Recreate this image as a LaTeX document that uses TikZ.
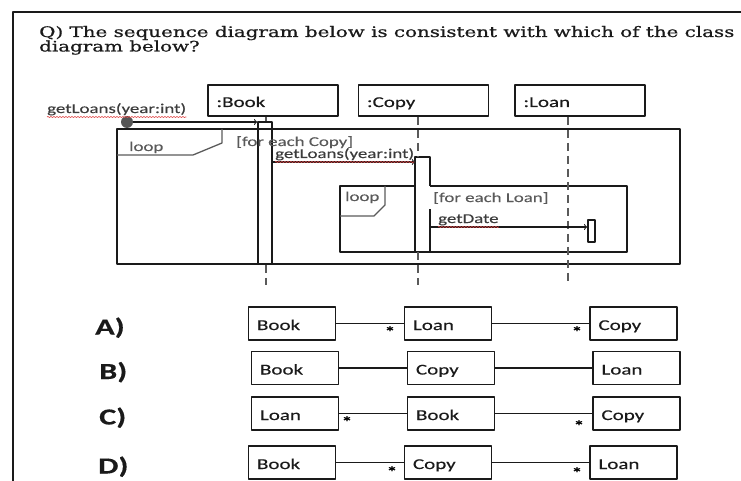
\documentclass[tikz,border=0pt]{standalone}
\usepackage{fontspec}
\usetikzlibrary{positioning,decorations.pathmorphing}
\setmainfont{DejaVu Serif}[FakeStretch=1.37, FakeBold=0.7]
\newfontfamily\boxfont{Carlito}[FakeStretch=1.40, FakeBold=0.3]
\definecolor{ink}{HTML}{1A1A1A}
\definecolor{muted}{HTML}{5A5A5A}
\definecolor{dotgray}{HTML}{555555}
\definecolor{squiggle}{HTML}{E04848}
\newcommand{\asksize}{\fontsize{14.5}{17}\selectfont}
\newcommand{\boxsize}{\boxfont\fontsize{15}{18}\selectfont}
\newcommand{\notesize}{\boxfont\fontsize{13.5}{16}\selectfont}
\newcommand{\choicesize}{\boxfont\bfseries\fontsize{23}{26}\selectfont}
\tikzset{
  every picture/.style = {line join=round},
  ask/.style      = {anchor=base west, inner sep=0pt, font=\asksize, text=ink},
  objbox/.style   = {draw=ink, line width=1.6pt, text width=113pt, minimum height=31pt,
                     inner xsep=8.5pt, inner ysep=0pt, text height=13pt, text depth=0pt,
                     align=left, font=\boxsize, text=ink},
  classbox/.style = {objbox, text width=70pt, minimum height=33pt},
  bar/.style      = {draw=ink, line width=1.6pt, inner sep=0pt},
  frame/.style    = {draw=ink, line width=1.6pt},
  tag/.style      = {draw=muted, line width=1.3pt},
  life/.style     = {draw=muted, line width=1.4pt, dash pattern=on 8pt off 5pt},
  stem/.style     = {draw=muted, line width=1.4pt},
  msg/.style      = {draw=ink, line width=1.1pt, ->},
  assoc/.style    = {draw=ink, line width=1.3pt},
  note/.style     = {anchor=base west, inner sep=0pt, font=\notesize, text=ink!85},
  squig/.style    = {draw=squiggle, line width=0.6pt, decorate,
                     decoration={snake, amplitude=0.6pt, segment length=3pt}},
  choice/.style   = {anchor=base west, inner sep=0pt, font=\choicesize, text=ink},
  mult/.style     = {anchor=base, inner sep=0pt, font=\boxfont\bfseries\fontsize{15}{15}\selectfont},
}
\begin{document}
\begin{tikzpicture}[x=1pt, y=-1pt]
  \useasboundingbox (0,0) rectangle (741,481);
  \clip (0,0) rectangle (741,481);

  % the page border, cut off by the screenshot
  \draw[frame] (13,481) -- (13,12) -- (741,12);
  \node[ask] (q1) at (39,37) {Q) The sequence diagram below is consistent with which of the class};
  \node[ask] (q2) at (39,51.5) {diagram below?};

  % heads of the three lifelines
  \node[objbox] (book) at (273,100.5) {:Book};
  \node[objbox] (copy) at (423.5,100.5) {:Copy};
  \node[objbox] (loan) at (580,100.5) {:Loan};
  \coordinate (lb) at (266,0);
  \coordinate (lc) at (418,0);
  \coordinate (ll) at (568,0);
  \coordinate (bottom) at (0,285);

  % loop frames with their name tags
  \draw[frame] (117,129) rectangle (680,264);
  \draw[tag] (117,155) -- (193,155) -- (222,143) -- (222,129);
  \node[note, text=muted] (loop1) at (129,151) {loop};
  \draw[frame] (340,186) rectangle (627,252);
  \draw[tag] (340,216) -- (374,216) -- (385,205) -- (385,186);
  \node[note, text=muted] (loop2) at (345,201) {loop};

  % activations
  \node[bar, minimum width=14pt, minimum height=142pt] (bookact) at (265,193) {};
  \coordinate (ca) at (415,157);
  \coordinate (cb) at (430,252);
  \fill[white] (ca) rectangle (cb);
  \draw[frame] (cb -| ca) -- (ca) -- (ca -| cb) -- (430,186);
  \draw[frame] (430,209) -- (cb) -- (cb -| ca);
  \node[bar, minimum width=7pt, minimum height=22pt] (loanact) at (591.5,231) {};

  % lifelines
  \draw[stem] (book.south -| lb) -- (lb |- bookact.north);
  \draw[life] (lb |- bookact.south) -- (lb |- bottom);
  \draw[life] (copy.south -| lc) -- (lc |- ca);
  \draw[life] (lc |- cb) -- (lc |- bottom);
  \draw[life] (loan.south -| ll) -- (ll |- bottom);

  % messages
  \node[circle, fill=dotgray, minimum size=12pt, inner sep=0pt] (found) at (127,122) {};
  \draw[msg] (found) -- (found -| bookact.west);
  \node[note] (call1) at (47,113) {getLoans(year:int)};
  \draw[squig] ([yshift=-4pt]call1.base west) -- ([yshift=-4pt]call1.base east);

  \node[note, text=muted] (guard1) at (236,146) {[for each Copy]};
  \coordinate (m2) at (0,162);
  \draw[msg] (bookact.east |- m2) -- (ca |- m2);
  \node[note] (call2) at (275,158) {getLoans(year:int)};
  \draw[squig] ([yshift=-4pt]call2.base west) -- ([yshift=-4pt]call2.base east);

  \node[note, text=muted] (guard2) at (433,202) {[for each Loan]};
  \coordinate (m3) at (0,227);
  \draw[msg] (cb |- m3) -- (loanact.west |- m3);
  \node[note] (call3) at (438,223) {getDate};
  \draw[squig] ([yshift=-4pt]call3.base west) -- ([yshift=-4pt]call3.base east);

  % the four candidate class diagrams
  \foreach \row/\y/\dx/\first/\second/\third in
      {a/323.5/0/Book/Loan/Copy, b/368/3/Book/Copy/Loan,
       c/413.5/3/Loan/Book/Copy, d/462.5/0/Book/Copy/Loan} {
    \node[classbox] (\row1) at (292+\dx,\y) {\first};
    \node[classbox] (\row2) at (448+\dx,\y) {\second};
    \node[classbox] (\row3) at (633.5+\dx,\y) {\third};
    \draw[assoc] (\row1) -- (\row2);
    \draw[assoc] (\row2) -- (\row3);
  }
  \node[choice] (optA) at (95,334.5) {A)};
  \node[choice] (optB) at (99,379) {B)};
  \node[choice] (optC) at (99,424.5) {C)};
  \node[choice] (optD) at (98,473.5) {D)};

  \node[mult] (sa1) at (390,337) {*};
  \node[mult] (sa2) at (577,337) {*};
  \node[mult] (sc1) at (347,427) {*};
  \node[mult] (sc2) at (579,431) {*};
  \node[mult] (sd1) at (392,477) {*};
  \node[mult] (sd2) at (577,478) {*};
\end{tikzpicture}
\end{document}
